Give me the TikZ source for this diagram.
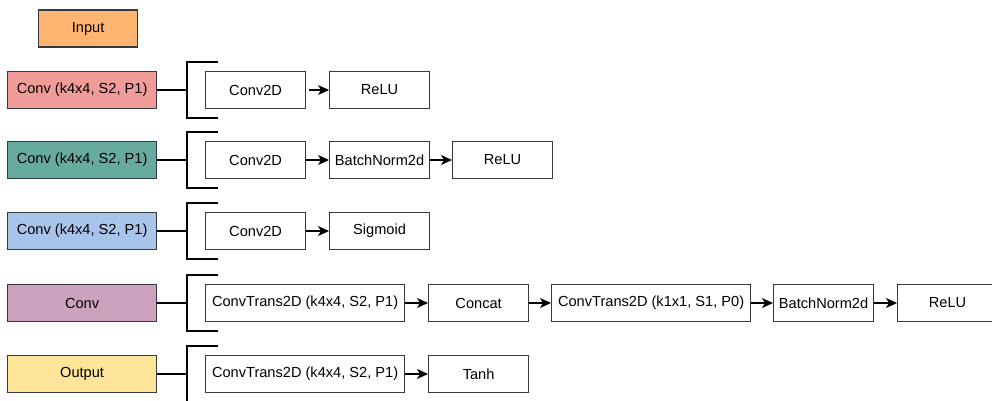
\documentclass[tikz,border=0pt]{standalone}
\usepackage{fontspec}
\setmainfont{Liberation Sans}
\usetikzlibrary{arrows.meta}
\definecolor{cinput}{HTML}{FFB570}
\definecolor{cred}{HTML}{F19C99}
\definecolor{cteal}{HTML}{67AB9F}
\definecolor{cblue}{HTML}{A9C4EB}
\definecolor{cpurple}{HTML}{CDA2BE}
\definecolor{cyellow}{HTML}{FFE599}
\definecolor{edge}{HTML}{36393D}
\begin{document}
\begin{tikzpicture}[x=1pt,y=-1pt,
  txt/.style={font=\fontsize{14.6}{17}\selectfont},
  box/.style={txt, draw=edge, line width=1.2pt, minimum width=100pt, minimum height=37pt, inner sep=0pt, anchor=west, fill=white},
  wbox/.style={box, minimum width=199pt},
  lbox/.style={txt, draw=edge, line width=1.2pt, minimum width=149pt, minimum height=37pt, inner sep=0pt, anchor=west},
  link/.style={line width=2pt, draw=black},
  brk/.style={line width=2.4pt, draw=black},
  ar/.style={line width=1.2pt, -{Stealth[length=11pt,width=10pt,inset=3pt]}}
]
\useasboundingbox (0,0) rectangle (992,400);

% Input
\node[lbox, fill=cinput, minimum width=99pt] (in) at (38,28.5) {Input};

% Left boxes
\node[lbox, fill=cred]    (l1) at (7,90)  {Conv (k4x4, S2, P1)};
\node[lbox, fill=cteal]   (l2) at (7,160) {Conv (k4x4, S2, P1)};
\node[lbox, fill=cblue]   (l3) at (7,231) {Conv (k4x4, S2, P1)};
\node[lbox, fill=cpurple] (l4) at (7,303) {Conv};
\node[lbox, fill=cyellow] (l5) at (7,374) {Output};

% Bracket junction coordinates
\foreach \i/\y in {1/90,2/160,3/231,4/303,5/374}{
  \coordinate (b\i) at (187,\y);
  \draw[brk, line cap=butt] (218,\y-28) -- (187,\y-28) -- (187,\y+28) -- (218,\y+28);
}
\draw[link] (l1.east) -- (b1);
\draw[link] (l2.east) -- (b2);
\draw[link] (l3.east) -- (b3);
\draw[link] (l4.east) -- (b4);
\draw[link] (l5.east) -- (b5);

% Row 1
\node[box] (r1a) at (205,90) {Conv2D};
\node[box] (r1b) at (329,90) {ReLU};
\draw[ar, shorten <=3pt] (r1a) -- (r1b);

% Row 2
\node[box] (r2a) at (205,160) {Conv2D};
\node[box] (r2b) at (329,160) {BatchNorm2d};
\node[box] (r2c) at (452,160) {ReLU};
\draw[ar] (r2a) -- (r2b);
\draw[ar] (r2b) -- (r2c);

% Row 3
\node[box] (r3a) at (205,231) {Conv2D};
\node[box] (r3b) at (329,231) {Sigmoid};
\draw[ar] (r3a) -- (r3b);

% Row 4
\node[wbox] (r4a) at (205,303) {ConvTrans2D (k4x4, S2, P1)};
\node[box]  (r4b) at (428,303) {Concat};
\node[wbox] (r4c) at (551,303) {ConvTrans2D (k1x1, S1, P0)};
\node[box]  (r4d) at (773,303) {BatchNorm2d};
\node[box]  (r4e) at (897,303) {ReLU};
\draw[ar] (r4a) -- (r4b);
\draw[ar] (r4b) -- (r4c);
\draw[ar] (r4c) -- (r4d);
\draw[ar] (r4d) -- (r4e);

% Row 5
\node[wbox] (r5a) at (205,374) {ConvTrans2D (k4x4, S2, P1)};
\node[box]  (r5b) at (428,374) {Tanh};
\draw[ar] (r5a) -- (r5b);
\end{tikzpicture}
\end{document}
